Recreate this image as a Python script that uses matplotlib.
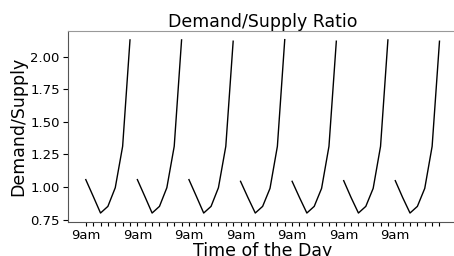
import numpy as np
import matplotlib
matplotlib.use('Agg')
import matplotlib.pyplot as plt

# hourly demand/supply ratio, 7 readings per day starting 9am
day1 = [1.057, 0.93, 0.801, 0.852, 0.995, 1.312, 2.128]
day2 = [1.057, 0.93, 0.801, 0.852, 0.995, 1.312, 2.128]
day3 = [1.057, 0.93, 0.801, 0.852, 0.995, 1.312, 2.118]
day4 = [1.044, 0.92, 0.801, 0.852, 0.990, 1.312, 2.130]
day5 = [1.044, 0.92, 0.801, 0.852, 0.990, 1.312, 2.118]
day6 = [1.049, 0.92, 0.801, 0.852, 0.990, 1.312, 2.128]
day7 = [1.049, 0.92, 0.801, 0.852, 0.990, 1.312, 2.118]
days = [day1, day2, day3, day4, day5, day6, day7]
hours_per_day = 7
tick_labels = ['9am' if i % hours_per_day == 0 else '' for i in range(len(days) * hours_per_day)]

fig = plt.figure(figsize=(4.54, 2.56), dpi=100)
ax = fig.add_axes([0.150, 0.134, 0.857, 0.745])

for d, vals in enumerate(days):
    x = d * hours_per_day + np.arange(len(vals))
    ax.plot(x, vals, color='black', linewidth=1.0)

ax.set_xticks(np.arange(len(tick_labels)))
ax.set_xticklabels(tick_labels, fontsize=9.5)
ax.tick_params(axis='x', length=3, pad=2.5)
ax.tick_params(axis='y', labelsize=9.5, pad=2.5)
ax.set_yticks([0.75, 1.00, 1.25, 1.50, 1.75, 2.00])
ax.set_title('Demand/Supply Ratio', fontsize=12.5, pad=3)
ax.set_xlabel('Time of the Day', fontsize=12.5, labelpad=0)
ax.set_ylabel('Demand/Supply', fontsize=12.5, labelpad=2)
for s in ax.spines.values():
    s.set_color('#555555')
ax.spines['top'].set_color('#999999')

fig.savefig('out.png', dpi=100)
